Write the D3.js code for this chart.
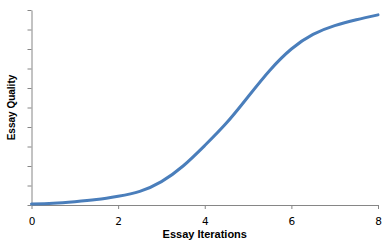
<!DOCTYPE html>
<html>
<head>
<meta charset="utf-8">
<script src="https://d3js.org/d3.v7.min.js"></script>
<style>
  body { margin: 0; background: #fff; }
  text { font-family: "Liberation Sans", Arial, sans-serif; }
</style>
</head>
<body>
<div id="chart"></div>
<script>
// data
const iterations = [0, 0.5, 1, 1.5, 2, 2.5, 3, 3.5, 4, 4.5, 5, 5.5, 6, 6.5, 7, 7.5, 8];
const quality = [0.05, 0.09, 0.17, 0.28, 0.45, 0.7, 1.2, 2.0, 3.05, 4.2, 5.55, 6.9, 8.0, 8.75, 9.2, 9.5, 9.75];
const xTicks = [0, 2, 4, 6, 8];
const yTicks = [0, 1, 2, 3, 4, 5, 6, 7, 8, 9, 10];

const margin = { top: 10, right: 12, bottom: 37, left: 31.5 };
const width = 390 - margin.left - margin.right;
const height = 242 - margin.top - margin.bottom;

const svg = d3.select("#chart")
  .append("svg")
    .attr("width", 390)
    .attr("height", 242)
  .append("g")
    .attr("transform", "translate(" + margin.left + "," + margin.top + ")");

const x = d3.scaleLinear().domain([0, 8]).range([0, width]);
const y = d3.scaleLinear().domain([0, 10]).range([height, 0]);

// X axis
const xAxis = svg.append("g")
  .attr("transform", "translate(0," + height + ")")
  .call(d3.axisBottom(x).tickValues(xTicks).tickSize(4).tickSizeOuter(0).tickPadding(8.5));
xAxis.selectAll("text").attr("fill", "#000")
  .style("font-family", "'DejaVu Sans', sans-serif").attr("font-size", 10.5);

// Y axis, no labels
svg.append("g")
  .call(d3.axisLeft(y).tickValues(yTicks).tickSize(4).tickSizeOuter(0).tickFormat(""));

svg.selectAll(".domain, .tick line").attr("stroke", "#868686");

// the curve
const line = d3.line()
  .x((d, i) => x(iterations[i]))
  .y(d => y(d))
  .curve(d3.curveNatural);

svg.append("path")
  .datum(quality)
  .attr("fill", "none")
  .attr("stroke", "#4a7ebb")
  .attr("stroke-width", 3)
  .attr("stroke-linecap", "round")
  .attr("d", line);

// axis titles
svg.append("text")
  .attr("x", x(4))
  .attr("y", height + 32.5)
  .attr("text-anchor", "middle")
  .attr("font-weight", "bold")
  .attr("font-size", 11)
  .text("Essay Iterations");

svg.append("text")
  .attr("transform", "translate(" + (-16.5) + "," + y(5) + ") rotate(-90)")
  .attr("text-anchor", "middle")
  .attr("font-weight", "bold")
  .attr("font-size", 10)
  .text("Essay Quality");
</script>
</body>
</html>
